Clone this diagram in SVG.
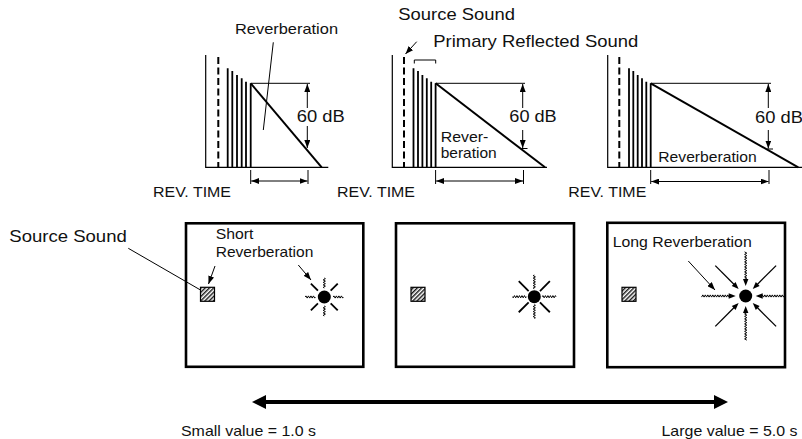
<svg xmlns="http://www.w3.org/2000/svg" xmlns:xlink="http://www.w3.org/1999/xlink" width="802" height="439" viewBox="0 0 802 439">
<style>
text{font-family:"Liberation Sans",Arial,Helvetica,sans-serif;fill:#111}
.t17{font-size:17px}
.t16{font-size:16.5px}
.t15{font-size:15px}
.t14{font-size:14.5px}
.thin{stroke:#000;stroke-width:1;fill:none}
.axis{stroke:#000;stroke-width:1.2;fill:none}
.bar{stroke:#000;stroke-width:1.8;fill:none}
.dash{stroke:#000;stroke-width:2;stroke-dasharray:7 3.5;fill:none}
.slope{stroke:#000;stroke-width:2;fill:none}
.dim{stroke:#000;stroke-width:1;fill:none}
.arr{marker-end:url(#ah)}
.arr2{marker-start:url(#ah);marker-end:url(#ah)}
.room{stroke:#000;stroke-width:2.6;fill:#fff}
.src{stroke:#000;stroke-width:1.2;fill:url(#hatch)}
.wave{stroke:#000;stroke-width:1;fill:none}
.ray{stroke:#000;stroke-width:1.8;fill:none}
</style>
<defs>
<marker id="ah" viewBox="0 0 8 6" refX="8" refY="3" markerWidth="8" markerHeight="6" orient="auto-start-reverse" markerUnits="userSpaceOnUse">
<path d="M0,0 L8,3 L0,6 z" fill="#000"/>
</marker>
<pattern id="hatch" width="3" height="3" patternUnits="userSpaceOnUse" patternTransform="rotate(45)">
<rect width="3" height="3" fill="#fff"/>
<line x1="0.75" y1="0" x2="0.75" y2="3" stroke="#000" stroke-width="1.3"/>
</pattern>
<path id="w1" class="wave" d="M9,0 l0.6,-1.1 l1.25,2.2 l1.25,-2.2 l1.25,2.2 l1.25,-2.2 l1.25,2.2 l1.25,-2.2 l1.25,2.2 l0.6,-1.1"/>
<line id="r1" class="ray" x1="9" y1="0" x2="19" y2="0"/>
<path id="w2" class="wave" d="M8,0 l0.6,-1.1 l1.25,2.2 l1.25,-2.2 l1.25,2.2 l1.25,-2.2 l1.25,2.2 l1.25,-2.2 l1.25,2.2 l1.25,-2.2 l1.25,2.2 l1.25,-2.2 l0.6,1.1"/>
<line id="r2" class="ray" x1="8" y1="0" x2="22" y2="0"/>
<g id="wIn">
<path class="wave" d="M16,0 l0.625,-1.1 l1.25,2.2 l1.25,-2.2 l1.25,2.2 l1.25,-2.2 l1.25,2.2 l1.25,-2.2 l1.25,2.2 l1.25,-2.2 l1.25,2.2 l1.25,-2.2 l1.25,2.2 l1.25,-2.2 l1.25,2.2 l1.25,-2.2 l1.25,2.2 l1.25,-2.2 l1.25,2.2 l1.25,-2.2 l1.25,2.2 l1.25,-2.2 l1.25,2.2 l1.25,-2.2"/>
<polygon points="10,0 17,-2.7 17,2.7" fill="#000"/>
</g>
<g id="wInShort">
<path class="wave" d="M16,0 l0.625,-1.1 l1.25,2.2 l1.25,-2.2 l1.25,2.2 l1.25,-2.2 l1.25,2.2 l1.25,-2.2 l1.25,2.2 l1.25,-2.2 l1.25,2.2 l1.25,-2.2 l1.25,2.2 l1.25,-2.2 l1.25,2.2 l1.25,-2.2 l1.25,2.2 l1.25,-2.2 l1.25,2.2 l1.25,-2.2"/>
<polygon points="10,0 17,-2.7 17,2.7" fill="#000"/>
</g>
<g id="sIn">
<line x1="16" y1="0" x2="43" y2="0" stroke="#000" stroke-width="1.3"/>
<polygon points="10,0 17,-2.7 17,2.7" fill="#000"/>
</g>
</defs>
<rect width="802" height="439" fill="#fff"/>

<!-- Graph 1 -->
<g id="graph-1">
<path class="axis" d="M205.7,55 V167.3 H328.3"/>
<line class="dash" x1="218.3" y1="57" x2="218.3" y2="167"/>
<path class="bar" d="M227.7,167.3V68.3 M232.3,167.3V71 M237,167.3V75 M241.7,167.3V78.3 M246,167.3V81.7 M250.7,167.3V83.3"/>
<line class="slope" x1="250.7" y1="83.3" x2="321.7" y2="167.3"/>
<line class="dim" x1="250.7" y1="83.3" x2="310" y2="83.3"/>
<line class="dim arr" x1="307.3" y1="108" x2="307.3" y2="84"/>
<line class="dim arr" x1="307.3" y1="126" x2="307.3" y2="148"/>
<text class="t16" x="296.7" y="121.7" textLength="48" lengthAdjust="spacingAndGlyphs">60 dB</text>
<path class="dim" d="M250.7,170 V184 M308,170 V184"/>
<line class="dim arr2" x1="251.2" y1="181" x2="307.5" y2="181"/>
<text class="t15" x="235" y="34" textLength="103" lengthAdjust="spacingAndGlyphs">Reverberation</text>
<text class="t14" x="153" y="196.7" textLength="78" lengthAdjust="spacingAndGlyphs">REV. TIME</text>
</g>

<!-- Graph 2 -->
<g id="graph-2">
<path class="axis" d="M392.3,55 V167.3 H547"/>
<line class="dash" x1="404" y1="57" x2="404" y2="167"/>
<path class="bar" d="M413.5,167.3V68.3 M418,167.3V71 M422.4,167.3V75 M426.8,167.3V78.3 M431.2,167.3V81.7 M435.6,167.3V83.3"/>
<path class="thin" d="M414.3,63.5 V60 H435.7 V63.5"/>
<line class="slope" x1="435.6" y1="83.3" x2="545" y2="167.3"/>
<line class="dim" x1="435.6" y1="83.3" x2="525" y2="83.3"/>
<line class="dim arr" x1="522.7" y1="108" x2="522.7" y2="84"/>
<line class="dim arr" x1="522.7" y1="130" x2="522.7" y2="148"/>
<line class="dim" x1="521.5" y1="148.5" x2="527.5" y2="148.5"/>
<text class="t16" x="509.3" y="122" textLength="47.4" lengthAdjust="spacingAndGlyphs">60 dB</text>
<path class="dim" d="M435.6,170 V184 M523.5,170 V184"/>
<line class="dim arr2" x1="436.1" y1="181" x2="523" y2="181"/>
<text class="t15" x="440.7" y="141.5" textLength="47.6" lengthAdjust="spacingAndGlyphs">Rever-</text>
<text class="t15" x="440.7" y="158.3" textLength="56" lengthAdjust="spacingAndGlyphs">beration</text>
<text class="t17" x="398.3" y="20" textLength="116.7" lengthAdjust="spacingAndGlyphs">Source Sound</text>
<text class="t17" x="433.3" y="46.7" textLength="205" lengthAdjust="spacingAndGlyphs">Primary Reflected Sound</text>
<text class="t14" x="337" y="196.7" textLength="78" lengthAdjust="spacingAndGlyphs">REV. TIME</text>
</g>

<!-- Graph 3 -->
<g id="graph-3">
<path class="axis" d="M607.7,55 V167.3 H802"/>
<line class="dash" x1="619.3" y1="57" x2="619.3" y2="167"/>
<path class="bar" d="M629,167.3V68.3 M633.3,167.3V71 M637.7,167.3V75 M642,167.3V78.3 M646.3,167.3V81.7 M650.7,167.3V83.3"/>
<line class="slope" x1="650.7" y1="83.3" x2="798.3" y2="167.3"/>
<line class="dim" x1="650.7" y1="83.3" x2="771" y2="83.3"/>
<line class="dim arr" x1="768.3" y1="108" x2="768.3" y2="84"/>
<line class="dim arr" x1="768.3" y1="130" x2="768.3" y2="148.5"/>
<line class="dim" x1="767" y1="149" x2="773" y2="149"/>
<text class="t16" x="755" y="123.3" textLength="48" lengthAdjust="spacingAndGlyphs">60 dB</text>
<path class="dim" d="M650.7,170 V184 M769,170 V184"/>
<line class="dim arr2" x1="651.2" y1="181.5" x2="768.5" y2="181.5"/>
<text class="t15" x="658.3" y="161.7" textLength="98.4" lengthAdjust="spacingAndGlyphs">Reverberation</text>
<text class="t14" x="568.3" y="196.7" textLength="78" lengthAdjust="spacingAndGlyphs">REV. TIME</text>
</g>

<!-- Room 1 -->
<g id="room-1">
<rect class="room" x="186" y="223.3" width="177.3" height="143.5"/>
<rect class="src" x="200.5" y="287.3" width="14" height="14"/>
<circle cx="324.3" cy="297" r="6.5" fill="#000"/>
<g transform="translate(324.3,297)">
<use xlink:href="#w1" href="#w1"/>
<use xlink:href="#w1" href="#w1" transform="rotate(90)"/>
<use xlink:href="#w1" href="#w1" transform="rotate(180)"/>
<use xlink:href="#w1" href="#w1" transform="rotate(270)"/>
<use xlink:href="#r1" href="#r1" transform="rotate(45)"/>
<use xlink:href="#r1" href="#r1" transform="rotate(135)"/>
<use xlink:href="#r1" href="#r1" transform="rotate(225)"/>
<use xlink:href="#r1" href="#r1" transform="rotate(315)"/>
</g>
<text class="t15" x="215.7" y="239.3" textLength="37.7" lengthAdjust="spacingAndGlyphs">Short</text>
<text class="t15" x="215.7" y="256.7" textLength="97.6" lengthAdjust="spacingAndGlyphs">Reverberation</text>
</g>

<!-- Room 2 -->
<g id="room-2">
<rect class="room" x="396" y="223.3" width="178" height="143.5"/>
<rect class="src" x="411" y="287.3" width="14" height="14"/>
<circle cx="534.3" cy="296.7" r="6.5" fill="#000"/>
<g transform="translate(534.3,296.7)">
<use xlink:href="#w2" href="#w2"/>
<use xlink:href="#w2" href="#w2" transform="rotate(90)"/>
<use xlink:href="#w2" href="#w2" transform="rotate(180)"/>
<use xlink:href="#w2" href="#w2" transform="rotate(270)"/>
<use xlink:href="#r2" href="#r2" transform="rotate(45)"/>
<use xlink:href="#r2" href="#r2" transform="rotate(135)"/>
<use xlink:href="#r2" href="#r2" transform="rotate(225)"/>
<use xlink:href="#r2" href="#r2" transform="rotate(315)"/>
</g>
</g>

<!-- Room 3 -->
<g id="room-3">
<rect class="room" x="607.3" y="222.8" width="177.7" height="144.4"/>
<rect class="src" x="622" y="287.3" width="14" height="14"/>
<circle cx="745.7" cy="296" r="6.5" fill="#000"/>
<g transform="translate(745.7,296)">
<use xlink:href="#wInShort" href="#wInShort"/>
<use xlink:href="#wIn" href="#wIn" transform="rotate(90)"/>
<use xlink:href="#wIn" href="#wIn" transform="rotate(180)"/>
<use xlink:href="#wIn" href="#wIn" transform="rotate(270)"/>
<use xlink:href="#sIn" href="#sIn" transform="rotate(45)"/>
<use xlink:href="#sIn" href="#sIn" transform="rotate(135)"/>
<use xlink:href="#sIn" href="#sIn" transform="rotate(225)"/>
<use xlink:href="#sIn" href="#sIn" transform="rotate(315)"/>
</g>
<text class="t15" x="612.7" y="246.7" textLength="139" lengthAdjust="spacingAndGlyphs">Long Reverberation</text>
</g>

<!-- Labels -->
<g id="labels">
<text class="t17" x="9.3" y="241.7" textLength="117.5" lengthAdjust="spacingAndGlyphs">Source Sound</text>
<text class="t14" x="181" y="436" textLength="135" lengthAdjust="spacingAndGlyphs">Small value = 1.0 s</text>
<text class="t14" x="661.5" y="436" textLength="136" lengthAdjust="spacingAndGlyphs">Large value = 5.0 s</text>
</g>

<!-- Connectors -->
<g id="connectors">
<line class="thin" x1="273.3" y1="42.3" x2="263.3" y2="130"/>
<line class="thin arr" x1="416.7" y1="41.7" x2="405.5" y2="54"/>
<line class="thin" x1="128.3" y1="248.3" x2="200.5" y2="290"/>
<line class="thin arr" x1="215" y1="266" x2="208.5" y2="284"/>
<line class="thin arr" x1="298.3" y1="265" x2="311" y2="280"/>
<line class="thin arr" x1="688.3" y1="261" x2="715" y2="290"/>
<g id="scale-arrow">
<line x1="262" y1="402" x2="718" y2="402" stroke="#000" stroke-width="4"/>
<polygon points="252,402 266,395 266,409" fill="#000"/>
<polygon points="728,402 714,395 714,409" fill="#000"/>
</g>
</g>
</svg>
